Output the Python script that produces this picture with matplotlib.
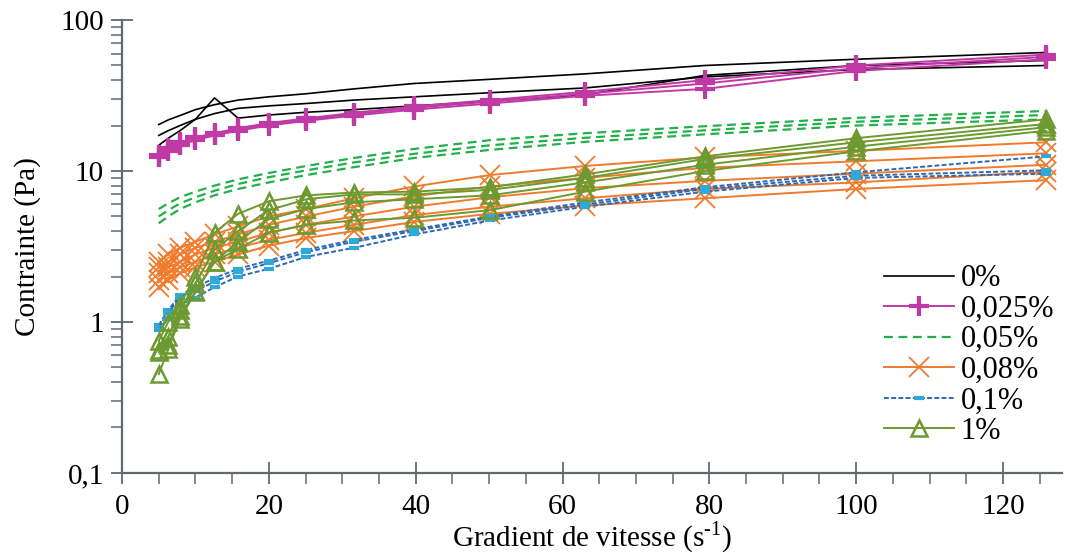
import matplotlib.pyplot as plt
from matplotlib.ticker import FixedLocator, FuncFormatter, LogLocator, NullFormatter

plt.rcParams['font.family'] = ['Liberation Serif', 'DejaVu Serif']
plt.rcParams['mathtext.fontset'] = 'custom'
plt.rcParams['mathtext.rm'] = 'Liberation Serif'

# Shear rate (s-1), same points for every run
x = [5, 6.3, 7.9, 10, 12.6, 15.8, 20, 25.1, 31.6, 39.8, 50.1, 63.1, 79.4, 100, 125.9]

# 0%
black_a = [20.3, 21.8, 23.3, 25.5, 27.5, 29.5, 31, 32.5, 35, 38, 40.5, 44, 50, 55, 61]
black_b = [17.2, 18.5, 20, 22, 24, 26, 27, 28, 29.5, 31, 33, 35.5, 42, 47, 50]
black_c = [14.8, 16.5, 18.5, 22, 30.5, 22.4, 23.5, 24.5, 25.5, 27, 29, 32, 43, 50, 54]

# 0,025%
pink_a = [12.8, 14.2, 15.5, 16.7, 17.8, 19.2, 20.8, 22.3, 24.3, 26.8, 29.5, 33.5, 40, 50, 59]
pink_b = [12.3, 13.6, 14.8, 16, 17.2, 18.5, 20, 21.5, 23.3, 25.5, 28, 31.5, 35, 46, 55]
pink_c = [12.6, 13.9, 15.2, 16.4, 17.5, 18.9, 20.4, 21.9, 23.8, 26.2, 28.8, 32.5, 38, 48, 57]

# 0,05%
green_a = [5.6, 6.1, 6.7, 7.3, 8.0, 8.8, 9.7, 10.8, 12.2, 14.0, 16.0, 17.8, 19.8, 22.5, 25.0]
green_b = [5.0, 5.5, 6.1, 6.7, 7.4, 8.2, 9.1, 10.1, 11.4, 13.0, 14.8, 16.6, 18.6, 21.2, 23.5]
green_c = [4.5, 5.0, 5.6, 6.2, 6.9, 7.6, 8.4, 9.4, 10.6, 12.2, 13.8, 15.6, 17.5, 20.0, 22.0]

# 0,08%
orange_a = [2.5, 2.8, 3.1, 3.4, 3.8, 4.3, 5.0, 5.6, 6.6, 7.9, 9.4, 10.8, 12.3, 13.6, 15.5]
orange_b = [2.3, 2.5, 2.8, 3.1, 3.4, 3.8, 4.4, 5.0, 5.8, 6.8, 7.9, 9.0, 10.5, 11.6, 13.1]
orange_c = [2.1, 2.3, 2.5, 2.8, 3.1, 3.4, 3.9, 4.4, 5.0, 5.8, 6.7, 7.7, 8.6, 9.6, 11.0]
orange_d = [1.9, 2.1, 2.3, 2.5, 2.8, 3.1, 3.5, 3.9, 4.4, 5.1, 5.8, 6.6, 7.6, 8.4, 9.9]
orange_e = [1.7, 1.9, 2.1, 2.3, 2.5, 2.8, 3.2, 3.6, 4.0, 4.6, 5.2, 5.9, 6.6, 7.6, 8.7]

# 0,1%
blue_a = [0.95, 1.2, 1.5, 1.7, 1.95, 2.25, 2.55, 3.0, 3.5, 4.1, 5.0, 6.2, 7.8, 9.8, 12.5]
blue_b = [0.93, 1.15, 1.45, 1.6, 1.85, 2.15, 2.45, 2.9, 3.4, 4.0, 4.9, 6.0, 7.6, 9.3, 10.1]
blue_c = [0.88, 1.05, 1.3, 1.45, 1.7, 2.0, 2.25, 2.7, 3.1, 3.8, 4.7, 5.8, 7.3, 9.0, 9.6]

# 1%
tri_a = [0.75, 1.0, 1.3, 2.0, 3.9, 5.2, 6.3, 6.9, 7.2, 7.3, 7.8, 9.5, 12.5, 16.5, 22]
tri_b = [0.65, 0.8, 1.2, 1.8, 3.0, 4.0, 5.5, 6.5, 7.0, 7.0, 7.5, 9.0, 12.0, 15.5, 20.5]
tri_c = [0.63, 0.7, 1.1, 1.6, 2.5, 3.4, 4.8, 5.6, 6.2, 6.5, 6.9, 8.4, 11.0, 14.5, 19.5]
tri_d = [0.45, 0.66, 1.05, 1.57, 2.5, 3.05, 3.9, 4.4, 4.7, 4.9, 5.5, 7.3, 10.0, 13.5, 18.5]

labels = ['0%', '0,025%', '0,05%', '0,08%', '0,1%', '1%']

fig = plt.figure(figsize=(10.74, 5.57), dpi=100)
ax = fig.add_axes([0.1136, 0.151, 0.875, 0.813])

for i, y in enumerate([black_a, black_b, black_c]):
    ax.plot(x, y, color='black', lw=1.2, label=labels[0] if i == 0 else None)
for i, y in enumerate([green_a, green_b, green_c]):
    ax.plot(x, y, color='#22b04b', lw=1.6, dashes=(4, 2.5), label=labels[2] if i == 0 else None)
for i, y in enumerate([orange_a, orange_b, orange_c, orange_d, orange_e]):
    ax.plot(x, y, color='#f07b2c', lw=1.4, marker='x', ms=14, mew=1.3,
            label=labels[3] if i == 0 else None)
for i, y in enumerate([blue_a, blue_b, blue_c]):
    ax.plot(x, y, color='#2b68b5', lw=1.4, dashes=(2.5, 1.2), marker='_', ms=7, mew=3,
            mec='#30a8d8', label=labels[4] if i == 0 else None)
for i, y in enumerate([tri_a, tri_b, tri_c, tri_d]):
    ax.plot(x, y, color='#6c9a30', lw=1.4, marker='^', ms=11, mew=1.8, mfc='none',
            label=labels[5] if i == 0 else None)
for i, y in enumerate([pink_a, pink_b, pink_c]):
    ax.plot(x, y, color='#c03aa5', lw=1.4, marker='+', ms=15, mew=3,
            label=labels[1] if i == 0 else None)

ax.set_yscale('log')
ax.set_ylim(0.1, 100)
ax.set_xlim(0, 128)
ax.xaxis.set_major_locator(FixedLocator([0, 20, 40, 60, 80, 100, 120]))
ax.xaxis.set_minor_locator(FixedLocator([v for v in range(5, 130, 5) if v % 20 != 0]))
ax.yaxis.set_major_locator(LogLocator(base=10))
ax.yaxis.set_minor_locator(LogLocator(base=10, subs=range(2, 10)))
ax.yaxis.set_minor_formatter(NullFormatter())
ax.yaxis.set_major_formatter(FuncFormatter(lambda v, p: ('%g' % v).replace('.', ',')))

spine_col = '#5d6b70'
for s in ['top', 'right']:
    ax.spines[s].set_visible(False)
for s in ['left', 'bottom']:
    ax.spines[s].set_color(spine_col)
    ax.spines[s].set_linewidth(1.6)
ax.tick_params(which='major', direction='inout', length=16, width=1.3, color=spine_col,
               labelsize=21)
ax.tick_params(axis='x', which='major', pad=7)
ax.tick_params(axis='y', which='major', pad=5)
ax.tick_params(which='minor', direction='out', length=8, width=1.1, color=spine_col)

ax.set_xlabel('Gradient de vitesse (s$^{\\mathregular{\u2010}1}$)', fontsize=21, labelpad=0)
ax.set_ylabel('Contrainte (Pa)', fontsize=21, labelpad=14)

handles, labs = ax.get_legend_handles_labels()
order = [labs.index(l) for l in labels]
ax.legend([handles[i] for i in order], [labs[i] for i in order], loc='upper left',
          bbox_to_anchor=(0.809, 0.553), bbox_transform=fig.transFigure, frameon=False,
          fontsize=22, handlelength=2.3, handletextpad=0.2, labelspacing=0.05,
          borderpad=0)

plt.savefig('out.png', dpi=100)
